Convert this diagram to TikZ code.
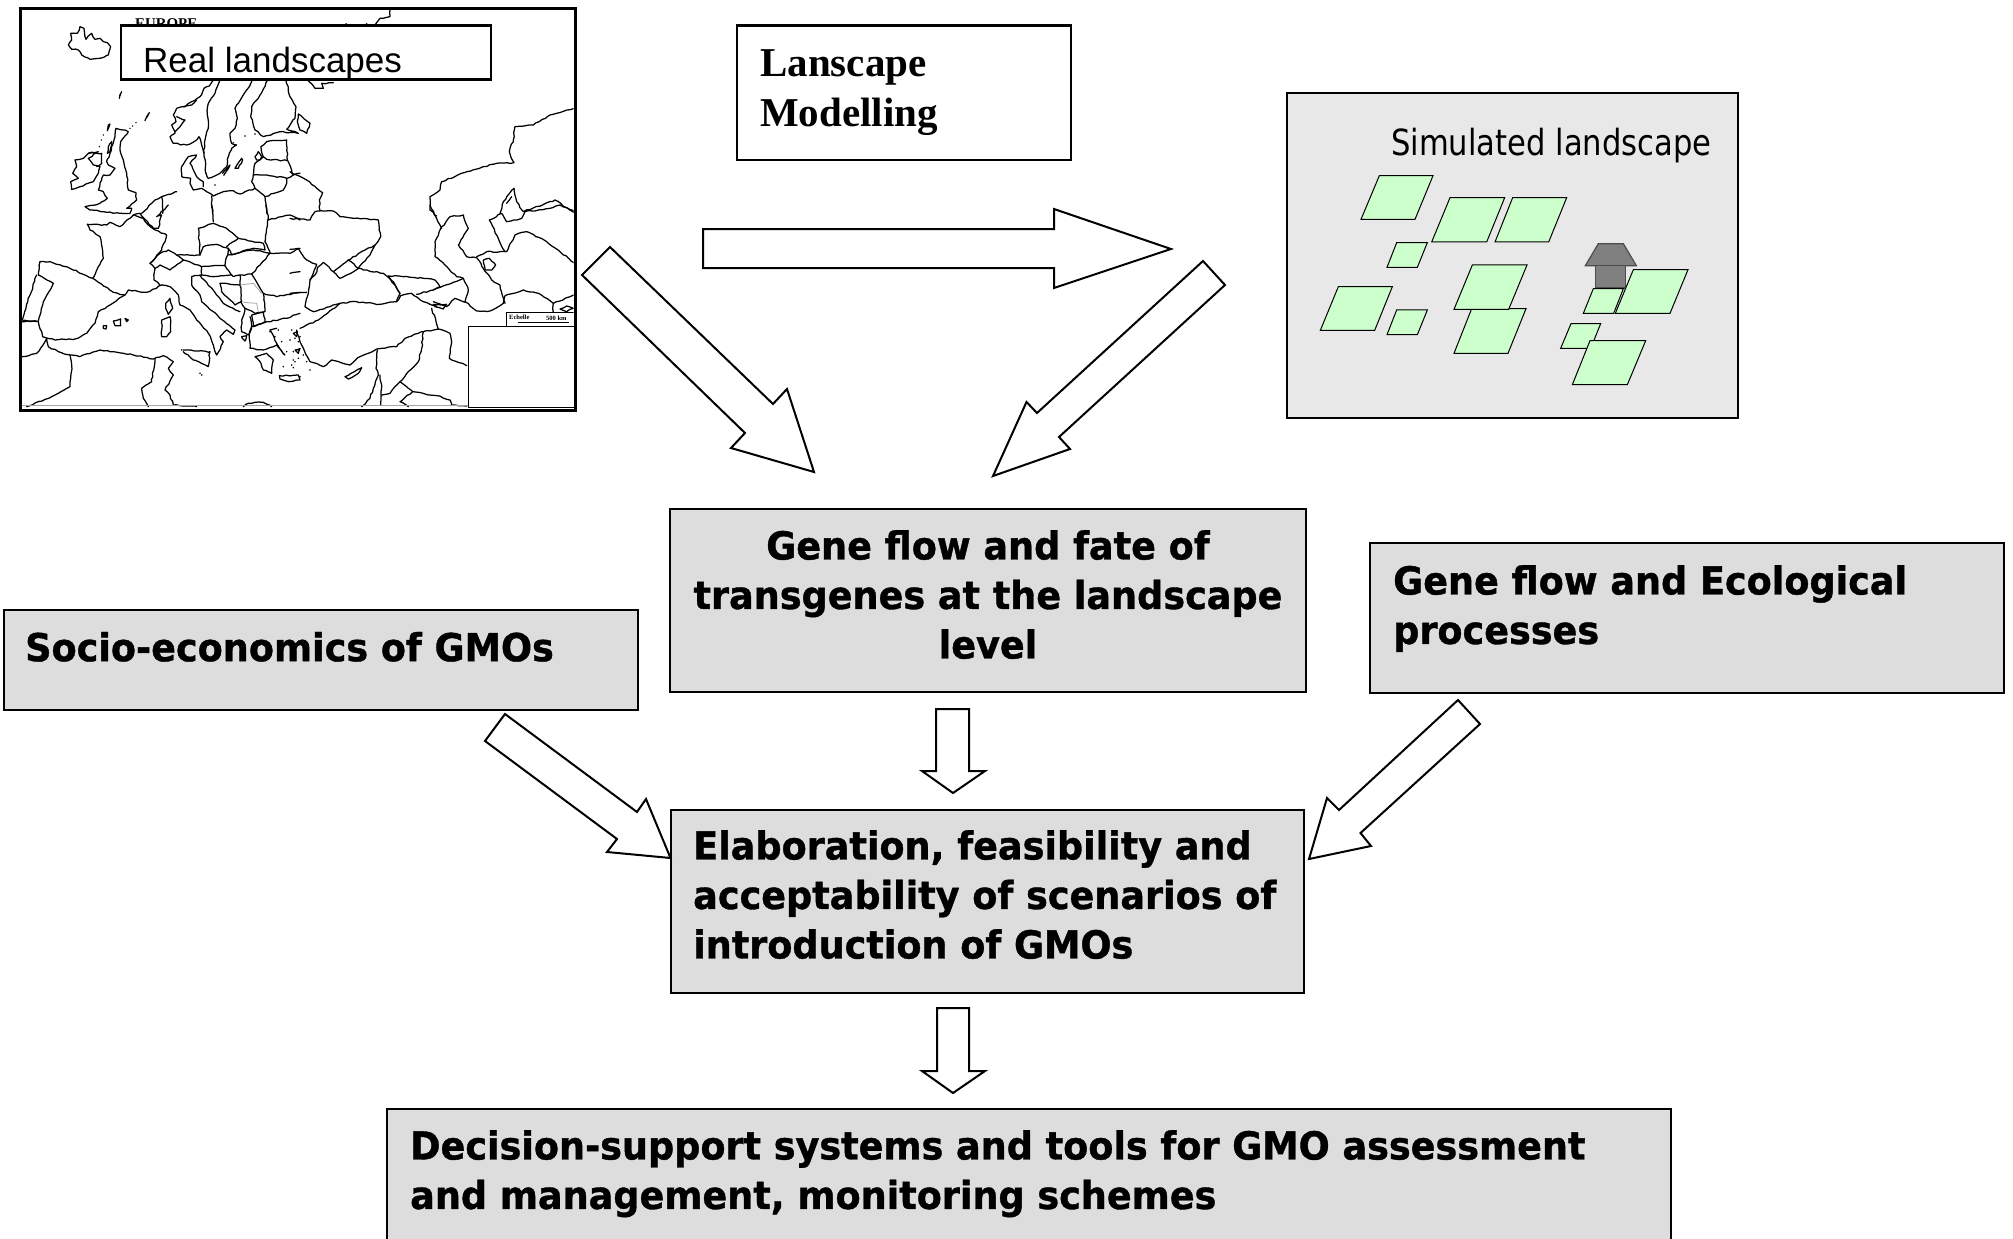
\documentclass[tikz,border=0pt]{standalone}
\usepackage{fontspec}
\usetikzlibrary{decorations.pathmorphing}
\setmainfont{Liberation Sans}
\newfontfamily\tahbold[FakeStretch=0.95,FakeBold=1.0]{DejaVu Sans Bold}
\newfontfamily\tahreg[FakeStretch=0.85]{DejaVu Sans}
\newfontfamily\timesb{Liberation Serif Bold}
\definecolor{boxgray}{HTML}{DDDDDD}
\definecolor{simgray}{HTML}{E8E8E8}
\definecolor{fieldgreen}{HTML}{CCFFCC}
\definecolor{housegray}{HTML}{808080}
\tikzset{
  graybox/.style={draw=black,fill=boxgray,line width=2.3pt,inner sep=0pt,anchor=north west},
  whitebox/.style={draw=black,fill=white,line width=2.3pt,inner sep=0pt,anchor=north west},
  simbox/.style={draw=black,fill=simgray,line width=2.3pt,inner sep=0pt,anchor=north west},
  boldtext/.style={font=\tahbold\fontsize{38.5pt}{49.5pt}\selectfont,inner sep=0pt,align=left,anchor=north west,execute at begin node={\rule{0pt}{30pt}}},
  boldcentre/.style={boldtext,align=center,anchor=north},
  blockarrow/.style={draw=black,fill=white,line width=2pt,line join=miter},
  field/.style={draw=black,fill=fieldgreen,line width=1pt},
  house/.style={draw=black!70,fill=housegray,line width=1.2pt},
  mapline/.style={draw=black,line width=1.25pt,line join=round,line cap=round,decorate,decoration={random steps,segment length=3.5pt,amplitude=0.65pt}},
  grayline/.style={draw=black!35,line width=0.8pt},
  speck/.style={fill=black}
}
\newcommand{\pl}[1]{\draw[mapline] plot coordinates {#1};}
\pgfmathsetseed{7}
\begin{document}
\begin{tikzpicture}[x=1pt,y=-1pt]
\useasboundingbox (0,0) rectangle (2013,1239);
% ---------- map ----------
\node[whitebox,minimum width=555pt,minimum height=402pt,line width=3pt] (map) at (18.5,7) {};
\begin{scope}
\clip (18.5,7) rectangle (573.5,409);
\node[font=\timesb\fontsize{14.9pt}{15pt}\selectfont,inner sep=0pt,anchor=base west] (europe) at (135,29) {EUROPE};
% quadrant NW
\begin{scope}[shift={(0,0)},x=0.33333pt,y=-0.33333pt]
\pl{(212,100)(215,120)(205,135)(215,148)(235,150)(245,165)(270,178)(300,175)(325,165)(332,140)(322,128)(310,125)(300,115)(285,118)(275,100)(265,108)(258,118)(252,85)(240,80)(232,100)(212,100)}
\pl{(640,240)(628,258)(612,265)(600,290)(575,305)(555,320)(530,325)(520,345)(528,365)(515,375)(525,400)(510,410)(520,430)(560,435)(590,420)(597,410)(605,435)(612,460)(618,520)}
\pl{(550,320)(575,315)(590,300)}
\pl{(530,350)(555,360)(540,380)(525,395)}
\pl{(660,240)(645,280)(625,310)(622,345)(625,385)(615,420)(612,460)}
\pl{(618,520)(625,535)(640,530)(660,520)(680,500)(685,470)(695,445)(710,435)(695,430)(690,400)(705,385)(712,355)(705,325)(715,310)(740,270)(757,240)}
\pl{(803,240)(780,285)(755,320)(752,350)(765,390)(790,410)(840,395)(895,400)(860,388)(885,355)(888,320)(870,290)(858,240)}
\pl{(783,440)(800,425)(860,420)(862,480)(880,525)(900,520)}
\pl{(790,470)(800,478)(862,482)}
\pl{(783,440)(790,470)(765,490)(760,525)(800,525)(860,535)(880,525)}
\pl{(760,525)(755,545)(765,565)(795,590)(850,570)(860,550)(860,535)}
\pl{(735,575)(765,565)}
\pl{(795,590)(800,640)}
\pl{(735,575)(720,582)(700,572)(670,575)(640,588)(620,575)(605,565)(580,570)(570,550)(572,535)(545,530)(545,500)(565,470)(590,465)(570,490)(585,520)(590,530)(610,545)(610,560)}
\pl{(705,505)(725,475)(728,480)(715,505)(705,505)}
\pl{(668,520)(690,495)(675,520)(668,520)}
\pl{(765,470)(775,455)(785,470)(780,480)(770,480)(765,470)}
\pl{(635,588)(638,640)}
\pl{(348,385)(345,410)(335,440)(330,460)(320,485)(325,495)(345,505)(330,525)(310,525)(305,540)(295,570)(310,575)(322,595)(300,610)(255,620)(270,630)(310,635)(360,640)(390,640)(395,625)(380,625)(410,600)(408,578)(385,570)(380,520)(370,480)(360,450)(362,425)(385,395)(370,390)(348,385)}
\pl{(295,455)(265,460)(250,475)(225,480)(230,500)(218,520)(235,535)(212,545)(215,568)(240,560)(280,545)(295,520)(300,500)(280,495)(265,475)(295,455)}
\pl{(265,460)(305,460)(305,490)(290,500)}
\pl{(325,375)(330,372)(322,392)(325,375)}
\pl{(325,440)(335,425)(330,455)(322,460)(325,440)}
\pl{(365,275)(358,295)}
\pl{(440,350)(448,338)(435,362)}
\pl{(425,640)(465,600)(485,590)(530,575)}
\pl{(485,590)(488,640)}
\foreach \a/\b in {390/385,398/378,408/368,310/405,304/420,298/440,360/285,735/408,765/402,645/555,700/428} \fill[speck] (\a,\b) circle (0.8pt);
\end{scope}
% quadrant NE
\begin{scope}[shift={(290,0)},x=0.33333pt,y=-0.33333pt]
\pl{(255,75)(270,55)(300,50)(300,28)}
\pl{(50,238)(75,265)(100,265)(95,250)(130,248)}
\pl{(25,342)(60,370)(50,400)(30,390)(22,365)(25,342)}
\pl{(0,515)(50,540)(98,578)(88,600)(90,632)}
\pl{(455,545)(530,515)(620,490)(672,488)(658,455)(670,420)(675,380)(730,375)(780,345)(853,325)}
\pl{(455,545)(450,570)(420,590)(420,630)(440,648)}
\pl{(672,565)(640,605)(630,640)}
\pl{(672,565)(680,605)(700,635)(795,600)(855,640)}
\pl{(650,610)(665,590)}
\fill[speck] (168,72) circle (1pt) (230,72) circle (1pt);
\end{scope}
% quadrant SW
\begin{scope}[shift={(0,205)},x=0.33333pt,y=-0.33333pt]
\pl{(262,58)(270,75)(300,95)(305,120)(310,160)(295,185)(278,220)(340,262)(375,270)(385,255)(440,262)(485,240)}
\pl{(262,58)(320,60)(330,52)(360,65)(400,30)(430,40)(445,60)(465,75)(500,90)(485,135)(450,175)(465,190)(462,225)(480,240)}
\pl{(120,170)(115,210)(160,235)(130,290)(115,350)(128,395)(165,405)(225,402)(260,385)(285,355)(295,320)(330,300)(375,270)}
\pl{(120,170)(150,170)(210,190)(278,220)}
\pl{(110,210)(90,270)(65,345)(115,350)}
\pl{(340,348)(362,342)(362,362)(345,362)(340,348)}
\pl{(310,362)(320,362)(318,372)(310,370)(310,362)}
\pl{(375,340)(385,345)(380,350)(375,340)}
\pl{(485,345)(510,335)(512,380)(500,395)(485,395)(485,345)}
\pl{(497,295)(510,280)(518,310)(505,328)(497,310)(497,295)}
\pl{(485,240)(510,245)(535,270)(540,300)(570,315)(590,345)(625,385)(640,420)(650,450)(670,410)(660,395)(680,375)(700,388)(705,375)(660,340)(640,320)(605,290)(600,270)(575,240)(575,215)(605,210)(605,185)(550,165)(510,195)(480,180)(465,190)}
\pl{(550,435)(630,440)(625,485)(580,465)(550,440)}
\pl{(450,175)(480,145)(505,135)(530,150)(550,165)}
\pl{(530,150)(600,150)(610,125)(650,118)(685,130)(675,182)(605,185)}
\pl{(600,150)(595,70)(640,55)(680,70)(715,100)(680,125)}
\pl{(715,100)(790,115)(795,135)(760,130)(695,150)(685,130)}
\pl{(685,150)(760,135)(810,145)(780,180)(755,207)(720,210)(700,215)(675,182)}
\pl{(600,210)(650,270)(670,295)(720,320)}
\pl{(695,210)(640,215)(605,210)}
\pl{(660,235)(720,240)(725,290)(705,300)(665,260)(660,235)}
\pl{(720,210)(720,240)}
\pl{(755,207)(790,265)(795,320)(765,325)(735,310)(722,290)}
\pl{(735,310)(725,345)(725,380)(745,390)(755,365)(750,335)}
\pl{(755,330)(790,322)(795,350)(760,365)(755,330)}
\pl{(790,265)(830,275)(900,262)}
\pl{(748,390)(755,365)(800,350)(860,340)(900,325)}
\pl{(765,455)(800,445)(820,465)(815,505)(790,495)(780,470)(765,455)}
\pl{(748,390)(750,430)(790,435)(830,420)(855,450)(830,415)(810,375)(830,370)}
\pl{(838,512)(895,510)(900,525)(865,530)(840,522)(838,512)}
\pl{(725,395)(740,392)(735,408)(725,395)}
\pl{(880,385)(892,380)(890,395)(880,385)}
\pl{(885,435)(900,430)(895,445)(885,435)}
\pl{(635,0)(640,50)}
\pl{(798,0)(805,40)(795,110)}
\pl{(805,45)(870,30)(900,45)}
\pl{(795,110)(810,145)(870,145)(900,130)}
\pl{(420,25)(460,70)(475,70)(485,30)(470,35)(505,0)}
\pl{(400,30)(420,25)}
\pl{(60,350)(115,350)}
\pl{(65,455)(110,445)(135,410)(140,400)(145,425)(175,440)(210,450)(240,455)(300,435)(340,440)(400,450)(460,462)(490,452)(520,470)(505,490)(520,510)(495,555)(510,570)(520,600)(590,605)}
\pl{(210,450)(215,480)(212,520)(210,545)(155,575)(80,605)}
\pl{(465,462)(455,530)(425,550)(430,580)(445,605)}
\pl{(730,605)(745,595)(790,592)(815,605)}
\foreach \a/\b in {545/435,880/465,880/488,850/485,870/405,845/410,895/410,860/440,885/470,810/380,825/395,835/375,605/510,600/505} \fill[speck] (\a,\b) circle (0.9pt);
\draw[grayline] (720,240) -- (760,235) -- (785,265);
\draw[grayline] (730,292) -- (770,295) -- (775,322);
\end{scope}
% quadrant SE
\begin{scope}[shift={(290,205)},x=0.33333pt,y=-0.33333pt]
\pl{(0,40)(60,45)(75,20)(130,18)(150,35)(190,40)(265,45)(272,95)(255,120)(225,135)(175,165)(150,185)(130,200)(150,220)(170,210)(205,190)(220,195)(280,205)(310,230)(330,265)(320,290)(270,298)(200,290)(150,295)(70,320)(45,305)(55,265)(60,225)(75,210)(85,185)(100,172)(110,180)(130,200)}
\pl{(0,133)(25,130)(50,165)(80,178)(70,205)(60,225)}
\pl{(0,265)(50,262)}
\pl{(0,205)(30,200)}
\pl{(175,165)(205,190)(240,150)(255,120)}
\pl{(20,375)(30,410)(60,470)(100,485)(125,465)(180,480)(210,455)(260,432)(275,430)(320,425)(345,400)(400,380)(445,372)(425,310)}
\pl{(30,370)(85,345)(150,295)}
\pl{(320,290)(332,272)(365,265)(400,290)(425,300)(440,305)}
\pl{(262,435)(258,490)(265,510)(250,550)(240,580)(215,605)}
\pl{(270,510)(275,540)(272,600)}
\pl{(165,515)(215,488)(205,505)(175,522)(165,515)}
\pl{(400,380)(395,430)(385,470)(330,530)(300,565)(275,570)}
\pl{(330,530)(368,560)(330,590)(355,605)}
\pl{(368,560)(440,572)(480,585)(485,600)(530,603)}
\pl{(445,372)(480,385)(485,410)(478,460)(530,482)}
\pl{(295,213)(340,215)(400,220)(435,225)(450,245)(430,255)(380,268)}
\pl{(430,255)(490,232)(520,220)(535,255)(525,290)(560,318)(600,318)(640,295)(645,272)(700,255)(745,265)(790,295)(855,270)}
\pl{(430,290)(470,305)(495,280)(525,292)}
\pl{(430,298)(470,298)(460,312)(435,305)(430,298)}
\pl{(295,213)(330,265)}
\pl{(500,215)(465,180)(435,155)(435,110)(450,75)(480,35)(520,30)(535,70)(505,120)(530,155)(560,158)(580,190)(605,225)(630,240)(645,295)}
\pl{(500,215)(520,220)}
\pl{(420,0)(440,40)(455,70)}
\pl{(560,155)(590,140)(650,140)(675,90)(710,80)(770,110)(855,175)}
\pl{(598,45)(645,140)}
\pl{(598,45)(635,25)(650,50)(695,40)(705,20)(780,10)(810,0)(855,20)}
\pl{(580,165)(598,160)(617,180)(605,195)(585,195)(580,165)}
\pl{(790,295)(790,322)}
\pl{(810,312)(830,303)(850,310)(830,320)(810,312)}
\draw[black,line width=1.2pt] (650,362) -- (650,322) -- (855,322);
\draw[black,line width=1pt] (685,352) -- (838,352);
\node[font=\timesb\fontsize{6.5pt}{7pt}\selectfont,inner sep=0pt,anchor=base west] (echelle) at (657,342) {Echelle};
\node[font=\timesb\fontsize{6.5pt}{7pt}\selectfont,inner sep=0pt,anchor=base west] (scalekm) at (768,345) {500 km};
\foreach \a/\b in {5/375,15/400,30/395,10/440,25/435,5/480,25/460,40/450,50/470,60/495,30/515} \fill[speck] (\a,\b) circle (0.9pt);
\end{scope}
\draw[black!35,line width=1.2pt] (18.5,405.5) -- (573.5,405.5);
\end{scope}
\node[whitebox,minimum width=106pt,minimum height=81pt,line width=1.5pt] (inset) at (467.5,325.5) {};
\node[whitebox,minimum width=555pt,minimum height=402pt,line width=3pt,fill=none] (mapframe) at (18.5,7) {};
\node[whitebox,minimum width=370pt,minimum height=54pt] (realbox) at (119.5,24.5) {};
\node[font=\fontsize{35pt}{40pt}\selectfont,inner sep=0pt,anchor=base west] (realtext) at (143,73) {Real landscapes};
% ---------- modelling box ----------
\node[whitebox,minimum width=334pt,minimum height=134pt] (modelbox) at (736,24.5) {};
\node[font=\timesb\fontsize{41pt}{50pt}\selectfont,inner sep=0pt,align=left,anchor=north west,execute at begin node={\rule{0pt}{30pt}}] (modeltext) at (760,49) {Lanscape\\Modelling};
% ---------- simulated landscape ----------
\node[simbox,minimum width=451pt,minimum height=325pt] (simbox) at (1285.5,91.5) {};
\node[font=\tahreg\fontsize{36pt}{40pt}\selectfont,inner sep=0pt,anchor=base west] (simtext) at (1391,155) {Simulated landscape};
\begin{scope}[shift={(1280,80)},x=0.33333pt,y=-0.33333pt]
\filldraw[field] (298,287)--(459,287)--(405,418)--(243,418)--cycle;
\filldraw[field] (510,353)--(674,353)--(620,486)--(455,486)--cycle;
\filldraw[field] (698,353)--(860,353)--(806,486)--(645,486)--cycle;
\filldraw[field] (350,488)--(442,488)--(412,562)--(321,562)--cycle;
\filldraw[field] (575,686)--(738,686)--(684,820)--(522,820)--cycle;
\filldraw[field] (577,555)--(741,555)--(686,688)--(522,688)--cycle;
\filldraw[field] (175,620)--(337,620)--(284,751)--(121,751)--cycle;
\filldraw[field] (350,690)--(442,690)--(412,764)--(321,764)--cycle;
\filldraw[house] (955,491)--(1030,491)--(1069,557)--(916,557)--cycle;
\filldraw[house] (946,557) rectangle (1036,624);
\filldraw[field] (940,626)--(1030,626)--(1001,700)--(910,700)--cycle;
\filldraw[field] (1060,569)--(1224,569)--(1170,700)--(1006,700)--cycle;
\filldraw[field] (873,731)--(962,731)--(932,805)--(842,805)--cycle;
\filldraw[field] (930,782)--(1097,782)--(1042,914)--(877,914)--cycle;
\end{scope}
% ---------- grey boxes ----------
\node[graybox,minimum width=635.5pt,minimum height=183pt] (genebox) at (669,508) {};
\node[boldcentre] (genetext) at (988,530) {Gene flow and fate of\\transgenes at the landscape\\level};
\node[graybox,minimum width=634pt,minimum height=100pt] (sociobox) at (2.5,608.5) {};
\node[boldtext] (sociotext) at (25,631) {Socio-economics of GMOs};
\node[graybox,minimum width=634pt,minimum height=150pt] (ecobox) at (1369,541.5) {};
\node[boldtext] (ecotext) at (1393,565) {Gene flow and Ecological\\processes};
\node[graybox,minimum width=633pt,minimum height=183pt] (elabbox) at (669.5,808.5) {};
\node[boldtext] (elabtext) at (693,830) {Elaboration, feasibility and\\acceptability of scenarios of\\introduction of GMOs};
\node[graybox,minimum width=1284pt,minimum height=140pt] (decbox) at (386,1107.5) {};
\node[boldtext] (dectext) at (410,1130) {Decision-support systems and tools for GMO assessment\\and management, monitoring schemes};
% ---------- block arrows ----------
\draw[blockarrow] (703,229)--(1054,229)--(1054,209)--(1171,249)--(1054,288)--(1054,268)--(703,268)--cycle;
\draw[blockarrow] (610,247)--(582,275)--(745,433)--(731,448)--(814,472)--(787,389)--(773,404)--cycle;
\draw[blockarrow] (1203,261)--(1225,285)--(1059,437)--(1070,449)--(993,476)--(1026.5,402)--(1037,413)--cycle;
\draw[blockarrow] (936,709)--(969,709)--(969,771)--(985,771)--(953,793)--(922,771)--(936,771)--cycle;
\draw[blockarrow] (505,714)--(485,741)--(617,839)--(607,852)--(670.5,858)--(646,799)--(637,812)--cycle;
\draw[blockarrow] (1458,700)--(1480,724)--(1360.5,833)--(1371,846)--(1309,859)--(1327,798)--(1339,810)--cycle;
\draw[blockarrow] (937,1008)--(969,1008)--(969,1071)--(985,1071)--(953,1093)--(922,1071)--(937,1071)--cycle;
\end{tikzpicture}
\end{document}
